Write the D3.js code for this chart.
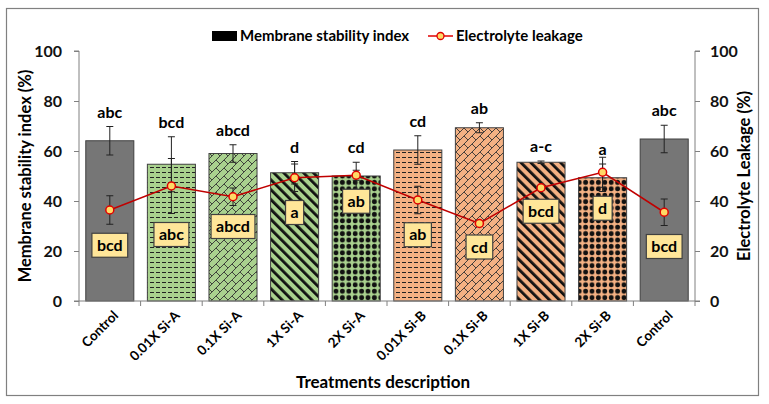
<!DOCTYPE html>
<html>
<head>
<meta charset="utf-8">
<script src="https://cdn.jsdelivr.net/npm/d3@7"></script>
<style>
  body { margin: 0; background: #fff; }
  text { font-family: Lato, "Open Sans", sans-serif; font-weight: bold; }
</style>
</head>
<body>
<svg id="chart" width="769" height="404"></svg>
<script>
// data
var categories = ['Control', '0.01X Si-A', '0.1X Si-A', '1X Si-A', '2X Si-A',
                  '0.01X Si-B', '0.1X Si-B', '1X Si-B', '2X Si-B', 'Control '];
var msi = [64.1, 54.7, 59.0, 51.3, 50.0, 60.4, 69.3, 55.5, 49.3, 64.8];
var msiErr = [5.7, 11.0, 3.5, 4.5, 5.5, 5.7, 2.0, 0.5, 5.5, 5.5];
var leakage = [36.4, 46.0, 41.7, 49.3, 50.3, 40.4, 31.0, 45.3, 51.5, 35.5];
var leakageErr = [5.7, 11.0, 3.5, 5.5, 2.0, 5.5, 1.0, 1.0, 6.0, 5.3];
var msiLetters = ['abc', 'bcd', 'abcd', 'd', 'cd', 'cd', 'ab', 'a-c', 'a', 'abc'];
var leakageLetters = ['bcd', 'abc', 'abcd', 'a', 'ab', 'ab', 'cd', 'bcd', 'd', 'bcd'];
var yTicks = [0, 20, 40, 60, 80, 100];

// styling per bar
var barColor = ['#767676', '#a9d18e', '#a9d18e', '#a9d18e', '#a9d18e',
                '#f4b183', '#f4b183', '#f4b183', '#f4b183', '#767676'];
var barPattern = [null, 'dash', 'brick', 'stripe', 'dots',
                  'dash', 'brick', 'stripe', 'dots', null];

var svg = d3.select('#chart');
var plotLeft = 79, plotRight = 695, plotTop = 51, plotBottom = 301;

// outer frame
svg.append('rect')
  .attr('x', 6.5).attr('y', 8.5).attr('width', 752).attr('height', 387)
  .attr('fill', 'none').attr('stroke', '#808080').attr('stroke-width', 1.2);

var x = d3.scaleBand().domain(categories).range([plotLeft, plotRight]).paddingInner(0.22).paddingOuter(0.11);
var y = d3.scaleLinear().domain([0, 100]).range([plotBottom, plotTop]);

//patterns
var defs = svg.append('defs');
var colorsUsed = ['#a9d18e', '#f4b183'];
colorsUsed.forEach(function (c, ci) {
  var p = defs.append('pattern').attr('id', 'dash' + ci).attr('patternUnits', 'userSpaceOnUse')
    .attr('width', 6).attr('height', 5);
  p.append('rect').attr('width', 6).attr('height', 5).attr('fill', c);
  p.append('line').attr('x1', 0).attr('x2', 4).attr('y1', 2.5).attr('y2', 2.5)
    .attr('stroke', '#222').attr('stroke-width', 1);

  p = defs.append('pattern').attr('id', 'brick' + ci).attr('patternUnits', 'userSpaceOnUse')
    .attr('width', 8).attr('height', 8);
  p.append('rect').attr('width', 8).attr('height', 8).attr('fill', c);
  p.append('path').attr('d', 'M-1,9L9,-1M-1,1L1,-1M7,9L9,7M0,0L4,4')
    .attr('stroke', '#333').attr('stroke-width', 0.9).attr('fill', 'none');

  p = defs.append('pattern').attr('id', 'stripe' + ci).attr('patternUnits', 'userSpaceOnUse')
    .attr('width', 7).attr('height', 7).attr('patternTransform', 'rotate(-45)');
  p.append('rect').attr('width', 7).attr('height', 7).attr('fill', c);
  p.append('rect').attr('width', 2.8).attr('height', 7).attr('fill', '#111');

  p = defs.append('pattern').attr('id', 'dots' + ci).attr('patternUnits', 'userSpaceOnUse')
    .attr('width', 6.4).attr('height', 6.4);
  p.append('rect').attr('width', 6.4).attr('height', 6.4).attr('fill', c);
  p.append('circle').attr('cx', 3.2).attr('cy', 3.2).attr('r', 2.4).attr('fill', '#111');
});

var bars = categories.map(function (c, i) {
  return {cat: c, v: msi[i], e: msiErr[i], color: barColor[i], pat: barPattern[i], letter: msiLetters[i]};
});
var pts = categories.map(function (c, i) {
  return {cat: c, v: leakage[i], e: leakageErr[i], letter: leakageLetters[i]};
});

// bars
svg.selectAll('.bar')
  .data(bars)
  .enter()
  .append('rect')
  .attr('class', 'bar')
  .attr('x', function (d) { return x(d.cat); })
  .attr('y', function (d) { return y(d.v); })
  .attr('width', x.bandwidth())
  .attr('height', function (d) { return y(0) - y(d.v); })
  .attr('fill', function (d) {
    if (!d.pat) return d.color;
    return 'url(#' + d.pat + (d.color == '#a9d18e' ? 0 : 1) + ')';
  })
  .attr('stroke', '#404040')
  .attr('stroke-width', 1);

function errorBars(data, cls) {
  var g = svg.selectAll('.' + cls).data(data).enter().append('g').attr('class', cls);
  g.append('line')
    .attr('x1', function (d) { return x(d.cat) + x.bandwidth() / 2; })
    .attr('x2', function (d) { return x(d.cat) + x.bandwidth() / 2; })
    .attr('y1', function (d) { return y(d.v - d.e); })
    .attr('y2', function (d) { return y(d.v + d.e); });
  [-1, 1].forEach(function (s) {
    g.append('line')
      .attr('x1', function (d) { return x(d.cat) + x.bandwidth() / 2 - 3.5; })
      .attr('x2', function (d) { return x(d.cat) + x.bandwidth() / 2 + 3.5; })
      .attr('y1', function (d) { return y(d.v + s * d.e); })
      .attr('y2', function (d) { return y(d.v + s * d.e); });
  });
  g.selectAll('line').attr('stroke', '#222').attr('stroke-width', 1);
}
errorBars(bars, 'msiErr');
errorBars(pts, 'elErr');

// leakage line
var line = d3.line()
  .x(function (d) { return x(d.cat) + x.bandwidth() / 2; })
  .y(function (d) { return y(d.v); });
svg.append('path').datum(pts)
  .attr('d', line).attr('fill', 'none').attr('stroke', '#c00000').attr('stroke-width', 1.5);
svg.selectAll('.pt')
  .data(pts)
  .enter()
  .append('circle')
  .attr('cx', function (d) { return x(d.cat) + x.bandwidth() / 2; })
  .attr('cy', function (d) { return y(d.v); })
  .attr('r', 4)
  .attr('fill', '#ffd966')
  .attr('stroke', '#e00000')
  .attr('stroke-width', 1.5);

// letters above bars
svg.selectAll('.topLetter')
  .data(bars)
  .enter()
  .append('text')
  .attr('x', function (d) { return x(d.cat) + x.bandwidth() / 2; })
  .attr('y', function (d) { return y(d.v + d.e) - 9; })
  .attr('text-anchor', 'middle')
  .style('font-size', '16px')
  .text(function (d) { return d.letter; });

// boxed letters for leakage
var boxes = svg.selectAll('.box')
  .data(pts)
  .enter()
  .append('g')
  .attr('transform', function (d) {
    return 'translate(' + (x(d.cat) + x.bandwidth() / 2) + ',' + (y(d.v - d.e) + 21) + ')';
  });
boxes.append('rect').attr('class', 'boxBg');
boxes.append('text')
  .attr('text-anchor', 'middle')
  .attr('dy', '0.35em')
  .style('font-size', '16px')
  .text(function (d) { return d.letter; });
boxes.each(function () {
  var g = d3.select(this);
  var w = g.select('text').node().getComputedTextLength() + 10;
  g.select('rect')
    .attr('x', -w / 2).attr('y', -12).attr('width', w).attr('height', 24)
    .attr('fill', '#ffe699').attr('stroke', '#404040').attr('stroke-width', 1.2);
});

// axes
var yLeft = d3.axisLeft(y).tickValues(yTicks).tickSize(5).tickPadding(12);
var yRight = d3.axisRight(y).tickValues(yTicks).tickSize(5).tickPadding(10);
var gl = svg.append('g').attr('transform', 'translate(' + plotLeft + ',0)').call(yLeft);
var gr = svg.append('g').attr('transform', 'translate(' + plotRight + ',0)').call(yRight);
[gl, gr].forEach(function (g) {
  g.selectAll('path, line').attr('stroke', '#808080');
  g.selectAll('text').style('font-size', '16px').attr('fill', '#111')
    .style('font-family', 'Lato, sans-serif');
});
gl.select('.domain').attr('d', 'M-5,' + plotTop + 'H0V' + plotBottom + 'H-5');
gr.select('.domain').attr('d', 'M5,' + plotTop + 'H0V' + plotBottom + 'H5');

// x axis line with ticks between groups
var gx = svg.append('g');
gx.append('line').attr('x1', plotLeft).attr('x2', plotRight).attr('y1', plotBottom).attr('y2', plotBottom)
  .attr('stroke', '#808080');
var step = x.step();
gx.selectAll('.xt')
  .data(d3.range(categories.length + 1))
  .enter()
  .append('line')
  .attr('x1', function (k) { return plotLeft + k * step; })
  .attr('x2', function (k) { return plotLeft + k * step; })
  .attr('y1', plotBottom).attr('y2', plotBottom + 5)
  .attr('stroke', '#808080');
gx.selectAll('.xl')
  .data(categories)
  .enter()
  .append('text')
  .attr('transform', function (d) {
    return 'translate(' + (x(d) + x.bandwidth() / 2 + 6) + ',' + (plotBottom + 12) + ') rotate(-45)';
  })
  .attr('text-anchor', 'end')
  .attr('dy', '0.35em')
  .style('font-size', '13.5px')
  .text(function (d) { return d.trim(); });

// titles
svg.append('text').attr('x', 383).attr('y', 388).attr('text-anchor', 'middle')
  .style('font-size', '17px').text('Treatments description');
svg.append('text').attr('transform', 'translate(31,176) rotate(-90)').attr('text-anchor', 'middle')
  .style('font-size', '16.5px').text('Membrane stability index (%)');
svg.append('text').attr('transform', 'translate(750,176) rotate(-90)').attr('text-anchor', 'middle')
  .style('font-size', '16.5px').text('Electrolyte Leakage (%)');

// legend
var lg = svg.append('g');
lg.append('rect').attr('x', 212).attr('y', 31).attr('width', 25).attr('height', 10).attr('fill', '#000');
lg.append('text').attr('x', 240).attr('y', 41).style('font-size', '15px').text('Membrane stability index');
lg.append('line').attr('x1', 428).attr('x2', 453).attr('y1', 36).attr('y2', 36)
  .attr('stroke', '#e00000').attr('stroke-width', 1.5);
lg.append('circle').attr('cx', 440.5).attr('cy', 36).attr('r', 3.5)
  .attr('fill', '#ffd966').attr('stroke', '#e00000').attr('stroke-width', 1.3);
lg.append('text').attr('x', 456).attr('y', 41).style('font-size', '15px').text('Electrolyte leakage');
</script>
</body>
</html>
